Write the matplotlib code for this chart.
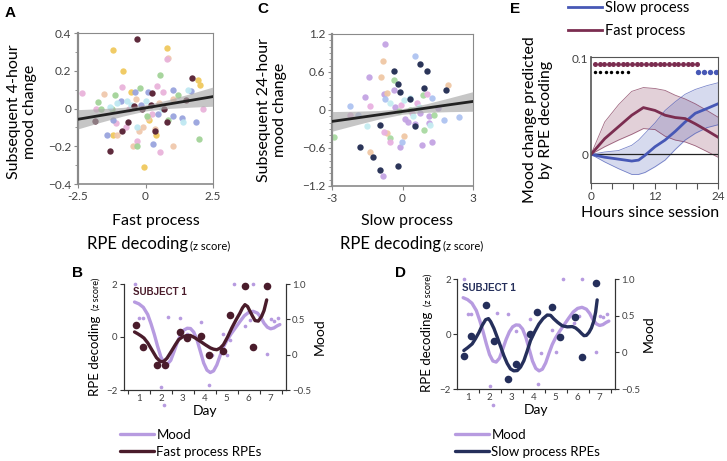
import numpy as np
import matplotlib
matplotlib.use("Agg")
import matplotlib.pyplot as plt
from matplotlib.ticker import MultipleLocator, FixedLocator

plt.rcParams['font.family'] = ['Lato', 'DejaVu Sans']

##------------------------------------panel A: fast process RPE vs 4-hour mood change------------------------------------
a_dark = [(-0.30, 0.368), (1.74, 0.163), (0.23, 0.08), (-1.86, -0.064), (-0.66, -0.07), (-0.42, 0.013),
          (0.19, 0.02), (0.69, -0.005), (0.78, -0.07), (1.49, 0.045), (0.37, -0.12), (-0.87, -0.12),
          (-1.31, -0.227), (-0.13, -0.005)]
a_yellow = [(-1.19, 0.308), (0.78, 0.318), (-0.82, 0.2), (1.93, 0.15), (2.03, 0.127), (-0.55, 0.09),
            (0.39, -0.14), (-0.06, -0.308), (0.14, -0.06), (-1.19, -0.14)]
a_peach = [(0.85, 0.27), (-1.52, 0.076), (0.1, -0.05), (-0.1, -0.1), (-0.23, -0.12), (0.35, -0.11),
           (1.03, -0.2), (-0.47, -0.2), (-1.06, -0.14), (1.03, 0.05), (-0.35, 0.05), (0.5, 0.03)]
a_pink = [(-2.34, 0.08), (-0.88, 0.115), (0.44, 0.12), (0.66, 0.09), (0.8, 0.26), (2.13, -0.002),
          (-1.84, -0.002), (-0.3, -0.17), (0.53, -0.23), (-1.1, -0.075), (-0.72, -0.1), (0.25, -0.03), (-0.6, 0.0)]
a_green = [(-0.2, 0.11), (-1.14, 0.07), (1.97, -0.164), (-0.33, -0.2), (-1.76, 0.035), (-1.66, 0.0),
           (0.84, -0.06), (1.2, 0.07), (0.54, 0.175), (-1.25, 0.0), (0.05, -0.04)]
a_blue = [(-1.41, -0.14), (0.29, -0.19), (1.01, -0.04), (1.03, 0.1), (1.88, -0.07), (1.37, -0.05),
          (-0.89, 0.04), (-0.4, 0.09), (0.1, 0.085), (1.69, 0.095), (-1.19, -0.06), (-0.15, 0.02), (0.45, -0.03)]
a_cyan = [(1.58, 0.1), (1.4, -0.07), (0.0, 0.04), (-0.33, -0.1), (-1.06, 0.03), (-0.7, 0.04),
          (-0.55, 0.02), (0.6, 0.0), (-1.3, 0.01)]
a_fit_x = [-2.5, -1.67, -0.83, 0, 0.83, 1.67, 2.5]
a_fit_y = [-0.057, -0.037, -0.017, 0.003, 0.023, 0.043, 0.063]
a_fit_lo = [-0.108, -0.073, -0.040, -0.013, 0.000, 0.007, 0.012]
a_fit_hi = [-0.006, -0.001, 0.006, 0.019, 0.046, 0.079, 0.114]
a_xticks = [-2.5, 0, 2.5]
a_xticklabels = ['-2.5', '0', '2.5']

##------------------------------------panel C: slow process RPE vs 24-hour mood change------------------------------------
c_dark = [(-0.38, 0.61), (0.73, 0.73), (1.04, 0.61), (-0.19, 0.41), (-0.09, 0.28), (0.93, 0.34), (1.84, 0.31),
          (0.33, 0.18), (-0.94, -0.23), (0.55, -0.25), (-1.79, -0.58), (-1.26, -0.75), (-0.21, -0.88), (-0.94, -0.94)]
c_purple = [(-0.74, 1.04), (-1.43, 0.52), (-0.8, 0.26), (-0.38, 0.31), (-0.84, -1.05), (0.83, -0.55),
            (1.26, -0.51), (-0.1, -0.58), (-1.58, 0.21), (1.11, -0.1), (1.11, -0.21), (0.76, -0.04),
            (1.51, 0.03), (0.22, -0.19), (0.55, -0.22), (0.1, -0.15), (-0.3, 0.05)]
c_peach = [(-0.83, 0.77), (-0.91, 0.52), (-0.66, 0.27), (0.08, -0.41), (-1.4, -0.67), (1.92, 0.39), (-0.66, -0.36)]
c_blue = [(0.52, 0.85), (-0.73, 0.17), (1.26, 0.19), (2.42, -0.11), (1.75, -0.16), (-0.02, -0.51),
          (-2.22, 0.07), (-1.91, -0.08)]
c_green = [(-0.38, 0.47), (0.86, 0.24), (-0.52, -0.44), (0.9, -0.32), (-0.16, -0.02), (-2.93, -0.42),
           (0.33, 0.0), (1.33, -0.08)]
c_pink = [(1.04, 0.26), (0.62, 0.11), (-1.37, 0.07), (-0.8, -0.35), (-0.52, -0.5), (-2.22, -0.08),
          (-0.05, 0.08), (0.4, -0.05)]
c_cyan = [(-0.52, 0.11), (0.05, 0.16), (-1.51, -0.25), (1.18, -0.23), (0.33, 0.19), (0.45, -0.1), (0.7, 0.05)]
c_fit_x = [-3, -2, -1, 0, 1, 2, 3]
c_fit_y = [-0.18, -0.128, -0.075, -0.023, 0.03, 0.083, 0.135]
c_fit_lo = [-0.335, -0.237, -0.142, -0.068, -0.037, -0.026, -0.02]
c_fit_hi = [-0.025, -0.019, -0.008, 0.022, 0.097, 0.192, 0.29]
c_xticks = [-3, 0, 3]
c_xticklabels = ['-3', '0', '3']

##------------------------------------panel E: mood change predicted over hours------------------------------------
fast_hours = [0, 2.6, 5.2, 7.7, 9.9, 12.1, 14, 15.9, 17.8, 19.7, 21.9, 24]
fast_mean = [0, 0.0165, 0.029, 0.041, 0.049, 0.046, 0.041, 0.0386, 0.0375, 0.032, 0.025, 0.018]
fast_hi = [0, 0.034, 0.052, 0.066, 0.070, 0.069, 0.067, 0.062, 0.058, 0.053, 0.046, 0.039]
fast_lo = [0, 0.008, 0.015, 0.021, 0.027, 0.026, 0.019, 0.015, 0.013, 0.009, 0.003, -0.003]
slow_hours = [0, 2.6, 5.2, 7.7, 9, 10.2, 12.1, 14, 15.9, 17.8, 19.7, 21.9, 24]
slow_mean = [0, -0.003, -0.005, -0.007, -0.006, -0.001, 0.008, 0.015, 0.024, 0.034, 0.043, 0.048, 0.053]
slow_hi = [0, 0.0025, 0.004, 0.0095, 0.015, 0.022, 0.033, 0.046, 0.055, 0.063, 0.068, 0.072, 0.075]
slow_lo = [0, -0.008, -0.015, -0.021, -0.021, -0.019, -0.013, -0.006, 0.005, 0.015, 0.022, 0.028, 0.031]
sig_fast_hours = [0.75, 1.63, 2.5, 3.38, 4.25, 5.13, 6.0, 6.88, 7.75, 8.63, 9.5, 10.38, 11.25, 12.13,
                  13.0, 13.88, 14.75, 15.63, 16.5, 17.38, 18.25, 19.13, 20.0]
sig_diff_hours = [0.75, 1.78, 2.8, 3.83, 4.86, 5.9, 6.93]
sig_slow_hours = [20.3, 21.4, 22.5, 23.6]
sig_row_top = 0.095
sig_row_low = 0.0863

##------------------------------------panels B and D: subject 1 time courses------------------------------------
mood_dot_days = [0.83, 1.0, 1.17, 2.0, 2.14, 2.33, 2.86, 3.2, 3.84, 4.18, 4.35, 4.83, 5.0, 5.15, 5.35,
                 5.82, 6.05, 6.18, 6.84, 7.0, 7.17, 7.35]
mood_dot_vals = [1.0, 0.516, 0.516, -0.455, -0.714, 0.539, 0.516, 0.295, 0.46, -0.436, -0.005, 0.299, 0.0,
                 0.21, 1.0, 0.404, 0.494, 1.0, 0.003, 0.498, 0.48, 0.516]
mood_curve_days = [0.8, 1.0, 1.2, 1.4, 1.55, 1.7, 1.85, 2.0, 2.15, 2.3, 2.45, 2.6, 2.75, 2.9, 3.05, 3.2,
                   3.35, 3.5, 3.65, 3.8, 3.95, 4.1, 4.25, 4.4, 4.55, 4.7, 4.85, 5.0, 5.2, 5.4, 5.6, 5.8,
                   6.0, 6.2, 6.4, 6.55, 6.7, 6.85, 7.0, 7.15, 7.3, 7.42]
mood_curve_vals = [0.745, 0.719, 0.67, 0.569, 0.438, 0.288, 0.119, -0.031, -0.118, -0.133, -0.08, 0.044,
                   0.175, 0.28, 0.348, 0.374, 0.37, 0.318, 0.205, 0.044, -0.118, -0.219, -0.253, -0.23,
                   -0.144, -0.013, 0.108, 0.198, 0.295, 0.381, 0.468, 0.55, 0.599, 0.614, 0.588, 0.531,
                   0.445, 0.389, 0.366, 0.378, 0.408, 0.426]

fast_dot_days = [0.85, 1.18, 1.83, 2.21, 2.86, 3.19, 3.84, 4.17, 4.82, 5.15, 5.83, 6.18, 6.82]
fast_dot_z = [0.44, -0.39, -1.07, -1.07, 0.19, -0.04, 0.03, -0.69, -0.52, 0.84, 1.91, -0.39, 1.91]
fast_curve_days = [0.8, 0.95, 1.1, 1.23, 1.4, 1.6, 1.8, 1.98, 2.13, 2.28, 2.47, 2.66, 2.81, 2.96, 3.15,
                   3.34, 3.55, 3.79, 4.02, 4.25, 4.4, 4.55, 4.7, 4.85, 5.04, 5.23, 5.42, 5.6, 5.72, 5.83,
                   5.95, 6.06, 6.18, 6.29, 6.44, 6.59, 6.7, 6.82]
fast_curve_z = [0.19, 0.12, 0.04, -0.04, -0.22, -0.5, -0.78, -0.93, -0.92, -0.8, -0.55, -0.29, -0.1, -0.01,
                0.05, 0.06, -0.03, -0.16, -0.29, -0.41, -0.46, -0.48, -0.42, -0.29, 0.0, 0.34, 0.64, 0.9,
                1.1, 1.22, 1.15, 0.97, 0.78, 0.62, 0.6, 0.78, 1.0, 1.4]

slow_dot_days = [0.83, 1.17, 1.82, 2.18, 2.85, 3.2, 3.83, 4.17, 4.82, 5.18, 5.88, 6.18, 6.85]
slow_dot_z = [-0.8, -0.08, 1.07, -0.27, -1.65, -1.1, 0.0, 0.79, 0.97, -0.1, 0.63, -0.82, 1.84]
slow_curve_days = [0.83, 1.0, 1.21, 1.36, 1.52, 1.67, 1.82, 1.95, 2.05, 2.2, 2.35, 2.5, 2.65, 2.8, 2.95,
                   3.1, 3.26, 3.41, 3.56, 3.71, 3.86, 4.05, 4.24, 4.43, 4.62, 4.77, 4.92, 5.1, 5.3, 5.53,
                   5.76, 5.91, 6.06, 6.18, 6.29, 6.4, 6.52, 6.63, 6.74, 6.82, 6.89]
slow_curve_z = [-0.6, -0.5, -0.36, -0.17, 0.06, 0.32, 0.52, 0.56, 0.45, 0.2, -0.12, -0.45, -0.79, -1.07,
                -1.27, -1.34, -1.33, -1.2, -0.97, -0.62, -0.24, 0.08, 0.36, 0.56, 0.69, 0.68, 0.55, 0.42,
                0.3, 0.26, 0.27, 0.22, 0.12, 0.02, -0.06, -0.05, 0.06, 0.22, 0.48, 0.8, 1.24]
day_labels = ['1', '2', '3', '4', '5', '6', '7']

##------------------------------------colours------------------------------------
pastel_a = ['#f0c95e', '#f0c9ad', '#e9b3da', '#a2d398', '#99a4de', '#bfe8f2']
pastel_c = ['#c3a3e3', '#f0c7a5', '#aec3f1', '#a9d9a1', '#e8b1e1', '#c5edf1']
DARK_A = '#5e2a3c'
DARK_C = '#2b3559'
FAST = '#7b2d50'
SLOW = '#4758b6'
MOOD = '#b79be0'
FAST_B = '#4a1c2b'
SLOW_D = '#252f5b'
GREY = '#8a8a8a'
TICK = '#404040'

fig = plt.figure(figsize=(7.27, 4.61), dpi=100)
W, H = 727.0, 461.0


def box(l, t, r, b):
    # pixel box -> figure fraction
    return [l / W, 1 - b / H, (r - l) / W, (b - t) / H]


def ftext(px, py, s, **kw):
    return fig.text(px / W, 1 - py / H, s, **kw)


# ---- A ----
axA = fig.add_axes(box(78, 33, 213, 184))
groupsA = [a_yellow, a_peach, a_pink, a_green, a_blue, a_cyan]
for pts, col in zip(groupsA, pastel_a):
    axA.scatter([p[0] for p in pts], [p[1] for p in pts], s=21, color=col, alpha=0.95, linewidths=0, zorder=2)
axA.scatter([p[0] for p in a_dark], [p[1] for p in a_dark], s=21, color=DARK_A, linewidths=0, zorder=3)
axA.fill_between(a_fit_x, a_fit_lo, a_fit_hi, color='#a8a8a8', alpha=0.65, linewidth=0, zorder=4)
axA.plot(a_fit_x, a_fit_y, color='#222222', lw=2.0, zorder=5)
axA.set_xlim(-2.5, 2.5)
axA.set_ylim(-0.4, 0.4)
axA.set_xticks(a_xticks)
axA.set_xticklabels(a_xticklabels)
axA.set_yticks([-0.4, -0.2, 0, 0.2, 0.4])
axA.set_yticklabels(['\u22120.4', '\u22120.2', '0', '0.2', '0.4'])
axA.yaxis.set_minor_locator(MultipleLocator(0.1))

# ---- C ----
axC = fig.add_axes(box(332, 34, 473, 186))
groupsC = [c_purple, c_peach, c_blue, c_green, c_pink, c_cyan]
for pts, col in zip(groupsC, pastel_c):
    axC.scatter([p[0] for p in pts], [p[1] for p in pts], s=21, color=col, alpha=0.95, linewidths=0, zorder=2)
axC.scatter([p[0] for p in c_dark], [p[1] for p in c_dark], s=21, color=DARK_C, linewidths=0, zorder=3)
axC.fill_between(c_fit_x, c_fit_lo, c_fit_hi, color='#a8a8a8', alpha=0.65, linewidth=0, zorder=4)
axC.plot(c_fit_x, c_fit_y, color='#222222', lw=2.0, zorder=5)
axC.set_xlim(-3, 3)
axC.set_ylim(-1.2, 1.2)
axC.set_xticks(c_xticks)
axC.set_xticklabels(c_xticklabels)
axC.set_yticks([-1.2, -0.6, 0, 0.6, 1.2])
axC.set_yticklabels(['\u22121.2', '\u22120.6', '0', '0.6', '1.2'])
axC.yaxis.set_minor_locator(MultipleLocator(0.1))

for ax in (axA, axC):
    for s in ax.spines.values():
        s.set_color(GREY)
        s.set_linewidth(0.8)
    ax.spines['left'].set_linewidth(1.6)
    ax.spines['bottom'].set_linewidth(1.2)
    ax.tick_params(direction='out', length=3, width=0.8, colors=GREY, labelcolor=TICK, labelsize=8.5, pad=2)
    ax.tick_params(which='minor', direction='out', length=2, width=0.6, colors=GREY)

ftext(22, 112, 'Subsequent 4-hour\nmood change', rotation=90, ha='center', va='center',
      fontsize=11.5, linespacing=1.25)
ftext(272, 110, 'Subsequent 24-hour\nmood change', rotation=90, ha='center', va='center',
      fontsize=11.5, linespacing=1.25)

ftext(156, 221, 'Fast process', ha='center', va='center', fontsize=11.5)
ftext(188, 249, 'RPE decoding', ha='right', va='baseline', fontsize=12)
ftext(190, 249, '(z score)', ha='left', va='baseline', fontsize=8)
ftext(407, 221, 'Slow process', ha='center', va='center', fontsize=11.5)
ftext(441, 249, 'RPE decoding', ha='right', va='baseline', fontsize=12)
ftext(443, 249, '(z score)', ha='left', va='baseline', fontsize=8)

# ---- E ----
axE = fig.add_axes(box(591, 57, 718, 183))
axE.fill_between(fast_hours, fast_lo, fast_hi, color=FAST, alpha=0.22, linewidth=0)
axE.plot(fast_hours, fast_hi, color=FAST, lw=0.6, alpha=0.7)
axE.plot(fast_hours, fast_lo, color=FAST, lw=0.6, alpha=0.7)
axE.fill_between(slow_hours, slow_lo, slow_hi, color=SLOW, alpha=0.22, linewidth=0)
axE.plot(slow_hours, slow_hi, color=SLOW, lw=0.6, alpha=0.7)
axE.plot(slow_hours, slow_lo, color=SLOW, lw=0.6, alpha=0.7)
axE.axhline(0, color='#222222', lw=0.9)
lE_slow, = axE.plot(slow_hours, slow_mean, color=SLOW, lw=2.0)
lE_fast, = axE.plot(fast_hours, fast_mean, color=FAST, lw=2.0)
axE.scatter(sig_fast_hours, [sig_row_top] * len(sig_fast_hours), s=13, color=FAST, linewidths=0, clip_on=False)
axE.scatter(sig_diff_hours, [sig_row_low] * len(sig_diff_hours), s=6, color='black', linewidths=0)
axE.scatter(sig_slow_hours, [sig_row_low] * len(sig_slow_hours), s=15, color=SLOW, linewidths=0)
axE.set_xlim(0, 24)
axE.set_ylim(-0.03, 0.102)
axE.set_xticks([0, 12, 24])
axE.xaxis.set_minor_locator(FixedLocator([4, 8, 16, 20]))
axE.set_yticks([0, 0.1])
axE.set_yticklabels(['0', '0.1'])
for s in axE.spines.values():
    s.set_color('#555555')
    s.set_linewidth(0.8)
axE.spines['left'].set_linewidth(1.2)
axE.tick_params(direction='out', length=4, width=0.8, colors='#555555', labelcolor=TICK, labelsize=8.5, pad=2)
axE.tick_params(which='minor', direction='out', length=4, width=0.8, colors='#555555')
axE.tick_params(axis='y', length=0)
ftext(538, 120, 'Mood change predicted\nby RPE decoding', rotation=90, ha='center', va='center',
      fontsize=11.5, linespacing=1.2)
ftext(650, 213, 'Hours since session', ha='center', va='center', fontsize=11.5)
fig.legend([lE_slow, lE_fast], ['Slow process', 'Fast process'], loc='upper left',
           bbox_to_anchor=(568 / W, 1 - 1 / H), frameon=False, fontsize=10.5, handlelength=2.3,
           handletextpad=0.25, labelspacing=0.6, borderpad=0.0, borderaxespad=0.0)


# ---- B and D ----
def subject_panel(pix, xlim, dot_days, dot_z, curve_days, curve_z, col, legend_label, legend_xy, subj_xy):
    ax = fig.add_axes(box(*pix))
    ax2 = ax.twinx()
    ax2.scatter(mood_dot_days, mood_dot_vals, s=7, color=MOOD, linewidths=0, clip_on=False)
    lm, = ax2.plot(mood_curve_days, mood_curve_vals, color=MOOD, lw=2.4, solid_capstyle='round')
    ax2.set_ylim(-0.5, 1.0)
    ax2.set_yticks([-0.5, 0, 0.5, 1.0])
    ax2.set_yticklabels(['\u22120.5', '0', '0.5', '1.0'])
    lr, = ax.plot(curve_days, curve_z, color=col, lw=2.4, solid_capstyle='round', zorder=3)
    ax.scatter(dot_days, dot_z, s=30, color=col, linewidths=0, zorder=4, clip_on=False)
    ax.set_zorder(ax2.get_zorder() + 1)
    ax.patch.set_visible(False)
    ax.set_xlim(*xlim)
    ax.set_ylim(-2, 2)
    ax.set_yticks([-2, 0, 2])
    ax.set_yticklabels(['\u22122', '0', '2'])
    ax.set_xticks([1, 2, 3, 4, 5, 6, 7])
    ax.set_xticklabels(day_labels)
    ax.xaxis.set_minor_locator(FixedLocator([0.5, 1.5, 2.5, 3.5, 4.5, 5.5, 6.5, 7.5]))
    for a in (ax, ax2):
        a.spines['top'].set_visible(False)
        for s in ('left', 'right', 'bottom'):
            a.spines[s].set_color('#333333')
            a.spines[s].set_linewidth(0.8)
        a.tick_params(direction='out', length=3, width=0.8, colors='#333333', labelcolor=TICK,
                      labelsize=7, pad=1.5)
    ax.tick_params(axis='x', which='major', length=0, pad=3)
    ax.tick_params(axis='x', which='minor', direction='out', length=3, width=0.8, colors='#333333')
    ax.set_xlabel('Day', fontsize=10, labelpad=1)
    ax2.set_ylabel('Mood', fontsize=10, labelpad=2)
    ax.text(subj_xy[0], subj_xy[1], 'SUBJECT 1', transform=ax.transAxes, fontsize=7, fontweight='heavy',
            family=['Liberation Sans', 'DejaVu Sans'], color=col, va='center')
    ax.legend([lm, lr], ['Mood', legend_label], loc='upper left', bbox_to_anchor=legend_xy,
              bbox_transform=fig.transFigure, frameon=False, fontsize=9.5, handlelength=2.6,
              handletextpad=0.15, labelspacing=0.35, borderpad=0.0, borderaxespad=0.0)
    return ax


axB = subject_panel((124, 284, 286, 390), (0.32, 7.7), fast_dot_days, fast_dot_z, fast_curve_days,
                    fast_curve_z, FAST_B, 'Fast process RPEs', (120 / W, 1 - 429 / H), (0.055, 0.925))
axD = subject_panel((457, 279, 615, 389), (0.52, 7.7), slow_dot_days, slow_dot_z, slow_curve_days,
                    slow_curve_z, SLOW_D, 'Slow process RPEs', (455 / W, 1 - 429 / H), (0.03, 0.92))

# rotated y labels with small "(z score)"
for xb, y0, y1 in ((99, 396, 310), (431, 392, 306)):
    ftext(xb, y0, 'RPE decoding', rotation=90, rotation_mode='anchor', ha='left', va='baseline', fontsize=9.5)
    ftext(xb, y1, '(z score)', rotation=90, rotation_mode='anchor', ha='left', va='baseline', fontsize=6.5)

# panel letters
for lab, px, py in (('A', 5, 13), ('B', 72, 273), ('C', 257, 9), ('D', 395, 273), ('E', 510, 9)):
    ftext(px, py, lab, fontsize=11, fontweight='bold', family=['Liberation Sans', 'DejaVu Sans'],
          va='center', ha='left')

fig.savefig('out.png', dpi=100)
